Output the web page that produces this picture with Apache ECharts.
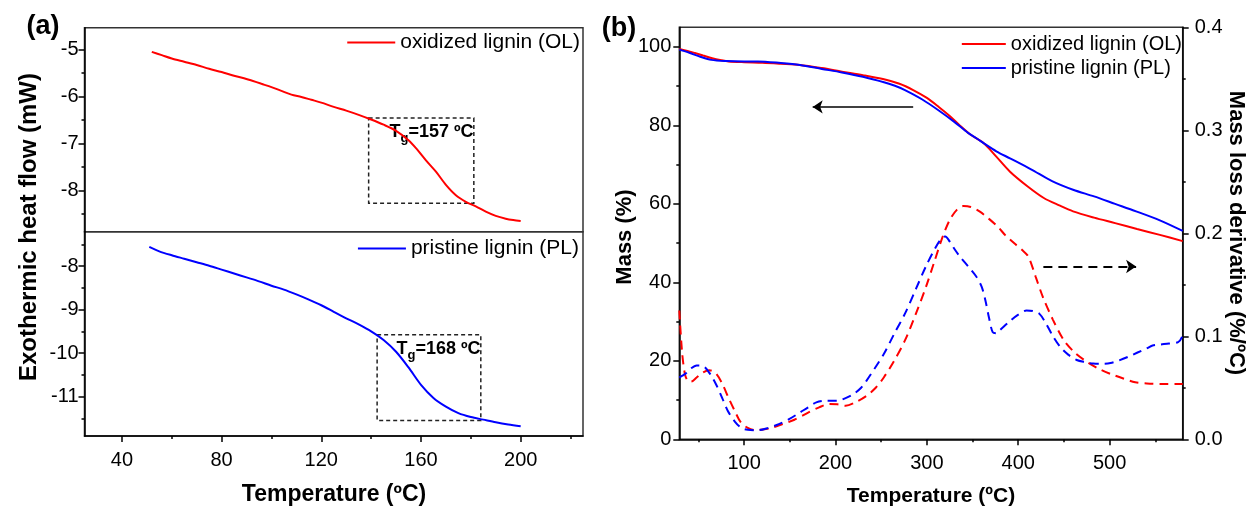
<!DOCTYPE html>
<html><head><meta charset="utf-8">
<script src="https://cdn.jsdelivr.net/npm/echarts@6/dist/echarts.min.js"></script>
<style>html,body{margin:0;padding:0;background:#fff}#c{width:1247px;height:508px}</style>
</head><body><div id="c"></div>
<script>
const FONT = '"Liberation Sans", Arial, sans-serif';
// ---------- Panel (a): DSC ----------
const dscTicks = [40, 80, 120, 160, 200];
const dscMinorTicks = [60, 100, 140, 180, 220];
const olTicks = [-8, -7, -6, -5];
const olMinorTicks = [-8.5, -7.5, -6.5, -5.5];
const plTicks = [-11, -10, -9, -8];
const plMinorTicks = [-11.5, -10.5, -9.5, -8.5, -7.5];
const dscOL = [[52,-5.05],[56,-5.12],[60,-5.19],[65,-5.26],[70,-5.33],[75,-5.41],[80,-5.48],[85,-5.56],[89,-5.61],[92,-5.66],[96,-5.73],[100,-5.80],[104,-5.88],[108,-5.96],[112,-6.01],[116,-6.07],[120,-6.13],[125,-6.22],[130,-6.30],[135,-6.39],[140,-6.49],[145,-6.60],[150,-6.73],[155,-6.93],[158,-7.10],[162,-7.36],[166,-7.60],[170,-7.88],[174,-8.10],[178,-8.24],[182,-8.34],[186,-8.45],[190,-8.54],[194,-8.60],[197,-8.63],[200,-8.65]];
const dscPL = [[51,-7.56],[55,-7.66],[60,-7.75],[65,-7.83],[70,-7.91],[75,-7.99],[80,-8.08],[85,-8.17],[90,-8.26],[95,-8.35],[100,-8.45],[105,-8.54],[110,-8.65],[115,-8.77],[120,-8.90],[125,-9.05],[130,-9.20],[135,-9.34],[140,-9.50],[145,-9.70],[150,-9.97],[155,-10.33],[160,-10.73],[165,-11.03],[170,-11.23],[175,-11.38],[180,-11.47],[185,-11.53],[190,-11.59],[195,-11.64],[200,-11.68]];
const olTgBox = [[139, -6.46], [181.2, -8.27]];
const plTgBox = [[142.4, -9.58], [184, -11.55]];
const olTgText = '{t|T}{s|g}{t|=157 ºC}';
const plTgText = '{t|T}{s|g}{t|=168 ºC}';
// ---------- Panel (b): TGA / DTG ----------
const tgaTicks = [100, 200, 300, 400, 500];
const tgaMinorTicks = [50, 150, 250, 350, 450, 550];
const massTicks = [0, 20, 40, 60, 80, 100];
const massMinorTicks = [10, 30, 50, 70, 90];
const dtgTicks = [0, 0.1, 0.2, 0.3, 0.4];
const dtgMinorTicks = [0.05, 0.15, 0.25, 0.35];
const massOL = [[29,99.5],[38,99.0],[46,98.45],[55,97.8],[65,97.1],[75,96.6],[83,96.3],[100,96.1],[120,95.95],[140,95.7],[161,95.4],[185,94.6],[207,93.7],[230,92.8],[253,91.75],[270,90.6],[285,89.0],[300,87.0],[313,84.7],[325,82.4],[336,80.0],[348,77.6],[362,75.5],[375,72.3],[391,68.2],[410,64.5],[428,61.5],[445,59.6],[460,58.1],[483,56.5],[506,55.1],[530,53.6],[555,52.1],[580,50.5]];
const massPL = [[29,99.3],[40,98.5],[52,97.5],[64,96.7],[80,96.4],[100,96.3],[115,96.3],[140,95.9],[161,95.4],[185,94.4],[207,93.5],[230,92.4],[253,91.0],[265,90.1],[276,89.0],[295,86.6],[313,83.8],[330,80.9],[345,78.1],[355,76.6],[362,75.5],[376,73.4],[391,71.6],[414,68.8],[437,65.8],[460,63.6],[483,61.9],[506,60.0],[529,58.1],[555,55.8],[580,53.1]];
const dtgOL = [[29,0.125],[32,0.085],[35,0.064],[38,0.057],[42,0.056],[48,0.06],[55,0.065],[62,0.067],[69,0.064],[76,0.054],[83,0.04],[90,0.027],[96,0.017],[104,0.011],[112,0.009],[120,0.0095],[130,0.011],[142,0.0147],[155,0.019],[170,0.026],[182,0.031],[193,0.0342],[202,0.034],[211,0.0326],[222,0.036],[234,0.0423],[244,0.05],[253,0.0603],[264,0.076],[276,0.096],[288,0.122],[299,0.148],[308,0.172],[317,0.196],[325,0.213],[333,0.223],[340,0.2265],[348,0.2255],[358,0.221],[368,0.214],[378,0.206],[386,0.198],[396,0.19],[404,0.184],[411,0.1775],[419,0.158],[427,0.138],[438,0.116],[450,0.096],[462,0.084],[473,0.0765],[487,0.069],[501,0.0635],[515,0.059],[528,0.0554],[545,0.054],[562,0.0537],[580,0.0537]];
const dtgPL = [[29,0.06],[33,0.062],[37,0.0645],[42,0.069],[48,0.0717],[53,0.0715],[57,0.07],[63,0.063],[69,0.0537],[76,0.04],[82,0.0277],[90,0.017],[97,0.011],[104,0.0092],[115,0.0088],[126,0.011],[138,0.0147],[150,0.02],[161,0.026],[170,0.031],[179,0.0358],[190,0.0375],[202,0.0375],[211,0.04],[220,0.044],[228,0.05],[234,0.057],[243,0.069],[253,0.083],[264,0.102],[276,0.122],[288,0.146],[299,0.168],[310,0.187],[316,0.195],[320,0.197],[325,0.192],[330,0.185],[336,0.1775],[345,0.168],[354,0.158],[360,0.148],[364,0.135],[368,0.118],[372,0.104],[376,0.103],[380,0.106],[390,0.114],[400,0.121],[409,0.125],[416,0.1245],[423,0.122],[430,0.113],[438,0.1],[446,0.0896],[455,0.082],[464,0.077],[473,0.0749],[482,0.0735],[492,0.0733],[501,0.074],[510,0.0765],[520,0.08],[530,0.084],[540,0.088],[547,0.091],[555,0.092],[565,0.093],[575,0.0944],[579,0.099],[580,0.105]];
const massArrow = [[285, 84.7], [175, 84.7]];
const dtgArrow = [[427.5, 0.1678], [529, 0.1678]];
const OL = 'oxidized lignin (OL)';
const PL = 'pristine lignin (PL)';
const RED = '#ff0000', BLUE = '#0000ff';

function axis(o) {
  return {
    type: 'value', gridIndex: o.grid, min: o.min, max: o.max, position: o.pos,
    axisLine: { show: !!o.line, onZero: false, lineStyle: { color: '#000', width: 1.5 } },
    axisTick: { show: !!o.ticks, inside: false, length: o.len || 6, customValues: o.ticks || [], lineStyle: { color: '#000', width: 1.5 } },
    axisLabel: { show: !!o.labels, customValues: o.ticks || [], margin: o.margin || 8, color: '#000', fontSize: 20, fontFamily: FONT, formatter: o.fmt },
    splitLine: { show: false }, minorTick: { show: false }
  };
}
const grids = [
  { left: 84.5, top: 27.7, width: 498.5, height: 204, show: true, borderColor: '#333', borderWidth: 1.5 },
  { left: 84.5, top: 231.7, width: 498.5, height: 204.3, show: true, borderColor: '#333', borderWidth: 1.5 },
  { left: 679.3, top: 27.3, width: 503.4, height: 412, show: true, borderColor: '#333', borderWidth: 1.5 }
];
const xAxes = [
  axis({ grid: 0, min: 25, max: 225, pos: 'bottom' }),
  axis({ grid: 1, min: 25, max: 225, pos: 'bottom', line: true, ticks: dscTicks, labels: true, margin: 14 }),
  axis({ grid: 1, min: 25, max: 225, pos: 'bottom', ticks: dscMinorTicks, len: 3 }),
  axis({ grid: 2, min: 29, max: 580, pos: 'bottom', line: true, ticks: tgaTicks, labels: true, margin: 14 }),
  axis({ grid: 2, min: 29, max: 580, pos: 'bottom', ticks: tgaMinorTicks, len: 3 })
];
const yAxes = [
  axis({ grid: 0, min: -8.877, max: -4.536, pos: 'left', line: true, ticks: olTicks, labels: true, margin: 6 }),
  axis({ grid: 0, min: -8.877, max: -4.536, pos: 'left', ticks: olMinorTicks, len: 3 }),
  axis({ grid: 1, min: -11.906, max: -7.209, pos: 'left', line: true, ticks: plTicks, labels: true, margin: 6 }),
  axis({ grid: 1, min: -11.906, max: -7.209, pos: 'left', ticks: plMinorTicks, len: 3 }),
  axis({ grid: 2, min: 0, max: 105, pos: 'left', line: true, ticks: massTicks, labels: true, margin: 8 }),
  axis({ grid: 2, min: 0, max: 105, pos: 'left', ticks: massMinorTicks, len: 3 }),
  axis({ grid: 2, min: 0, max: 0.4, pos: 'right', line: true, ticks: dtgTicks, labels: true, margin: 12, fmt: v => (+v).toFixed(1) }),
  axis({ grid: 2, min: 0, max: 0.4, pos: 'right', ticks: dtgMinorTicks, len: 3 })
];
const tgRich = {
  t: { fontSize: 18, fontWeight: 'bold', fontFamily: FONT, color: '#000' },
  s: { fontSize: 13, fontWeight: 'bold', fontFamily: FONT, color: '#000', padding: [14, 0, 0, 0] }
};
function tgArea(box, text) {
  return {
    silent: true,
    itemStyle: { color: 'rgba(0,0,0,0)', borderColor: '#222', borderWidth: 1.5, borderType: [4, 3] },
    label: { show: true, position: 'insideTopRight', distance: 1, formatter: text, rich: tgRich },
    data: [[{ coord: box[0] }, { coord: box[1] }]]
  };
}
function line(name, color, xi, yi, data, dashed, extra) {
  return Object.assign({
    type: 'line', name, xAxisIndex: xi, yAxisIndex: yi, data, symbol: 'none', smooth: 0.3,
    itemStyle: { color }, lineStyle: { color, width: 2, type: dashed ? [9, 6] : 'solid' }
  }, extra || {});
}
const series = [
  line(OL, RED, 0, 0, dscOL, false, { markArea: tgArea(olTgBox, olTgText) }),
  line(PL, BLUE, 1, 2, dscPL, false, { markArea: tgArea(plTgBox, plTgText) }),
  line(OL, RED, 3, 4, massOL, false, {
    markLine: { silent: true, symbol: ['none', 'arrow'], symbolSize: 10, label: { show: false },
      lineStyle: { color: '#000', width: 1.5, type: 'solid' },
      data: [[{ coord: massArrow[0] }, { coord: massArrow[1] }]] }
  }),
  line(PL, BLUE, 3, 4, massPL, false),
  line(OL, RED, 3, 6, dtgOL, true, {
    markLine: { silent: true, symbol: ['none', 'arrow'], symbolSize: 10, label: { show: false },
      lineStyle: { color: '#000', width: 2, type: [9, 6] },
      data: [[{ coord: dtgArrow[0] }, { coord: dtgArrow[1] }]] }
  }),
  line(PL, BLUE, 3, 6, dtgPL, true)
];
function txt(text, x, y, size, rot) {
  return { type: 'text', x, y, rotation: rot || 0, silent: true,
    style: { text, font: 'bold ' + size + 'px ' + FONT, fill: '#000', align: 'center', verticalAlign: 'middle', textAlign: 'center', textVerticalAlign: 'middle' } };
}
const legendText = (s) => ({ fontSize: s, fontFamily: FONT, color: '#000' });
const legendBase = { padding: 0, icon: 'rect', itemHeight: 2, selectedMode: false };
const option = {
  backgroundColor: '#fff', animation: false,
  grid: grids, xAxis: xAxes, yAxis: yAxes, series,
  legend: [
    Object.assign({ data: [OL], right: 667, top: 32, itemWidth: 48, textStyle: legendText(21) }, legendBase),
    Object.assign({ data: [PL], right: 668, top: 238, itemWidth: 48, textStyle: legendText(21) }, legendBase),
    Object.assign({ data: [OL, PL], orient: 'vertical', right: 65, top: 34, itemGap: 4, itemWidth: 44, textStyle: legendText(20) }, legendBase)
  ],
  graphic: [
    txt('(a)', 43, 27, 27),
    txt('(b)', 619, 29, 27),
    txt('Exothermic heat flow (mW)', 29, 227, 24, Math.PI / 2),
    txt('Temperature (ºC)', 334, 495, 23),
    txt('Mass (%)', 625, 237, 22, Math.PI / 2),
    txt('Temperature (ºC)', 931, 496, 21),
    txt('Mass loss derivative (%/ºC)', 1236, 233, 22, -Math.PI / 2)
  ]
};
const chart = echarts.init(document.getElementById('c'), null, { renderer: 'canvas', width: 1247, height: 508 });
chart.setOption(option);
</script></body></html>
